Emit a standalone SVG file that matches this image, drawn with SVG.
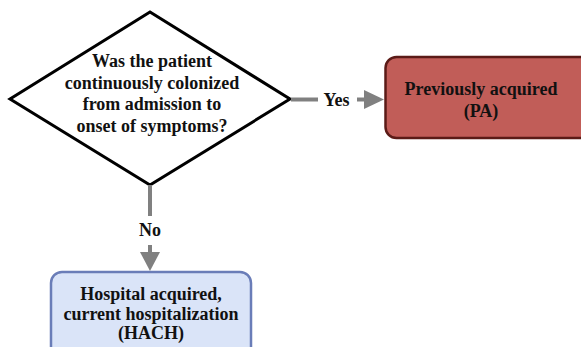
<svg xmlns="http://www.w3.org/2000/svg" width="581" height="347" viewBox="0 0 581 347">
  <style>
    .label { font-family: "Liberation Serif", "Times New Roman", serif; font-weight: bold; font-size: 18px; fill: #111; text-anchor: middle; }
    .edge { stroke: #808080; stroke-width: 4; fill: none; }
    .head { fill: #808080; }
  </style>
  <rect width="581" height="347" fill="#ffffff"/>

  <g id="decision">
    <polygon points="150,12 290,99 150,185 10,99" fill="#ffffff" stroke="#000000" stroke-width="3" stroke-linejoin="miter"/>
    <text class="label" x="152" y="67">Was the patient</text>
    <text class="label" x="152" y="88.5">continuously colonized</text>
    <text class="label" x="152" y="110">from admission to</text>
    <text class="label" x="152" y="131.5">onset of symptoms?</text>
  </g>

  <g id="pa">
    <rect x="385.5" y="57" width="205" height="81" rx="11" fill="#c15d58" stroke="#5b1b17" stroke-width="2.5"/>
    <text class="label" x="481" y="95">Previously acquired</text>
    <text class="label" x="481" y="117">(PA)</text>
  </g>

  <g id="hach">
    <rect x="51" y="272" width="200" height="90" rx="11" fill="#dae4f8" stroke="#6a7db8" stroke-width="2.5"/>
    <text class="label" x="151" y="300">Hospital acquired,</text>
    <text class="label" x="151" y="320">current hospitalization</text>
    <text class="label" x="151" y="339">(HACH)</text>
  </g>

  <g id="connectors">
    <!-- Yes branch -->
    <line class="edge" x1="291" y1="99.5" x2="318" y2="99.5"/>
    <text class="label" x="336.5" y="105.5">Yes</text>
    <line class="edge" x1="357" y1="99.5" x2="367" y2="99.5"/>
    <polygon class="head" points="364,90 384,99.5 364,109"/>
    <!-- No branch -->
    <line class="edge" x1="150" y1="185" x2="150" y2="216"/>
    <text class="label" x="150" y="236">No</text>
    <line class="edge" x1="150" y1="245" x2="150" y2="256"/>
    <polygon class="head" points="140,252 150,271 160,252"/>
  </g>
</svg>
